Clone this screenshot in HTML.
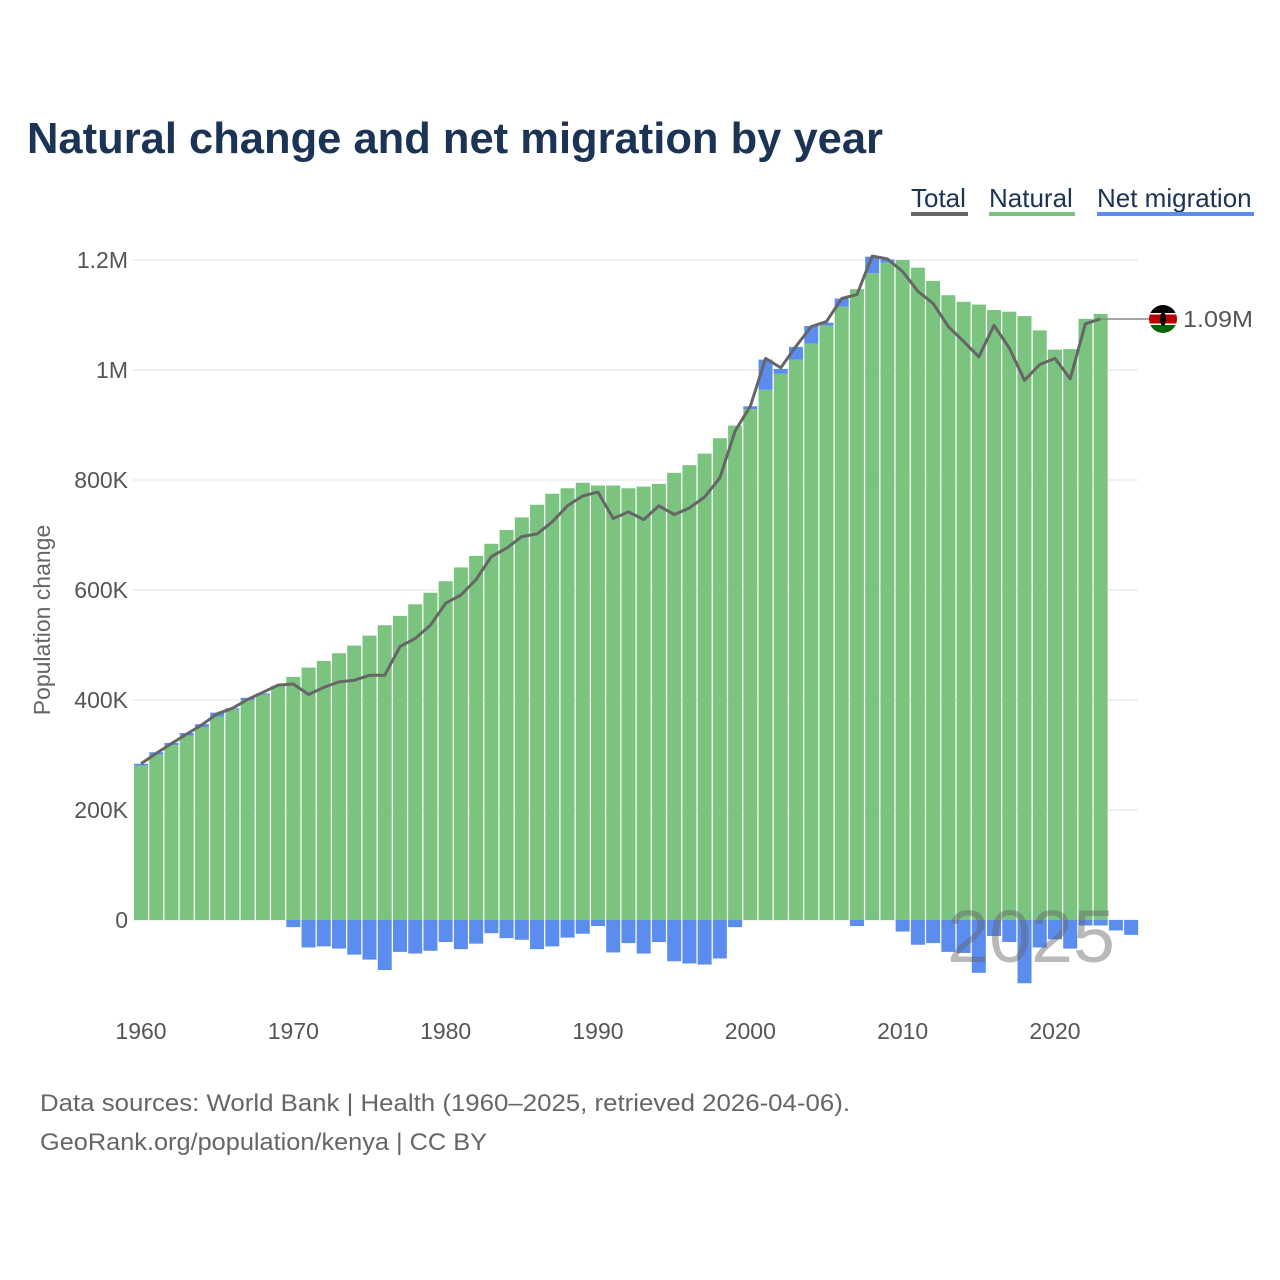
<!DOCTYPE html>
<html><head><meta charset="utf-8">
<style>
body{margin:0;background:#fff;width:1280px;height:1280px;overflow:hidden;font-family:"Liberation Sans",sans-serif;}
svg{position:absolute;left:0;top:0;}
</style></head>
<body>
<svg id="chart" width="1280" height="1280">
<text x="27" y="153" font-size="44" font-weight="bold" fill="#1b3354" textLength="856" lengthAdjust="spacingAndGlyphs">Natural change and net migration by year</text>
<g font-size="26" fill="#1b3354">
<g><text x="911" y="207">Total</text><rect x="911" y="212" width="57" height="4" fill="#666"/></g>
<g><text x="989" y="207">Natural</text><rect x="989" y="212" width="86" height="4" fill="#7bc47f"/></g>
<g><text x="1097" y="207">Net migration</text><rect x="1097" y="212" width="157" height="4" fill="#5b8def"/></g>
</g>
<g id="grid"></g><g id="bars"></g><g id="line"></g><g id="axes"></g>
<text x="50" y="620" font-size="23" fill="#666" text-anchor="middle" transform="rotate(-90 50 620)">Population change</text>
<text x="947" y="962" font-size="74" fill="rgba(100,100,100,0.45)" textLength="168" lengthAdjust="spacingAndGlyphs">2025</text>
<g>
<line x1="1100" y1="319" x2="1150" y2="319" stroke="#888" stroke-width="1.5"/>
<clipPath id="fc"><circle cx="1163" cy="319" r="14"/></clipPath>
<g clip-path="url(#fc)">
<rect x="1149" y="305" width="28" height="9" fill="#000"/><rect x="1149" y="314" width="28" height="10" fill="#b00"/><rect x="1149" y="324" width="28" height="9" fill="#060"/>
<rect x="1149" y="313" width="28" height="1.5" fill="#fff"/><rect x="1149" y="323.5" width="28" height="1.5" fill="#fff"/>
<ellipse cx="1163" cy="319" rx="3" ry="7" fill="#000"/></g>
<text x="1183" y="327" font-size="23" fill="#555" textLength="70" lengthAdjust="spacingAndGlyphs">1.09M</text>
</g>
<text x="40" y="1111" font-size="24" fill="#666" textLength="810" lengthAdjust="spacingAndGlyphs">Data sources: World Bank | Health (1960–2025, retrieved 2026-04-06).</text>
<text x="40" y="1150" font-size="24" fill="#666" textLength="447" lengthAdjust="spacingAndGlyphs">GeoRank.org/population/kenya | CC BY</text>
</svg>
<script>
const years=[];for(let y=1960;y<=2025;y++)years.push(y);
const natural=[281,301,318,335,351,370,383,400,410,426,442,459,471,485,499,517,536,553,574,595,616,641,662,684,709,732,755,775,785,795,790,790,785,788,793,813,827,848,876,899,929,964,993,1019,1048,1081,1115,1147,1176,1195,1200,1186,1162,1136,1124,1119,1109,1106,1098,1072,1037,1038,1093,1102,0,0];
const migration=[3,4,4,5,5,7,2,4,2,0,-13,-50,-48,-52,-63,-72,-91,-58,-61,-56,-40,-53,-43,-24,-33,-36,-53,-48,-32,-25,-11,-59,-42,-61,-40,-75,-79,-81,-70,-13,5,55,9,23,32,5,15,-11,30,6,-21,-45,-42,-58,-60,-96,-29,-40,-115,-50,-35,-52,-10,-10,-19,-27];
const total=[284,303,321,338,355,375,385,401,414,427,429,410,423,433,436,445,445,497,512,536,576,591,619,661,676,697,702,724,753,771,778,730,742,728,753,737,749,769,804,889,934,1021,1004,1043,1079,1088,1130,1137,1207,1202,1179,1143,1121,1079,1052,1024,1081,1040,981,1010,1021,984,1084,1093];
const yTicks=[0,200,400,600,800,1000,1200];
const yTickLabels=["0","200K","400K","600K","800K","1M","1.2M"];
const xTicks=[1960,1970,1980,1990,2000,2010,2020];
const NS="http://www.w3.org/2000/svg";
const X=y=>141+(y-1960)*15.233;
const Y=v=>920-v*0.55;
const bw=14;
function mk(t,a,p){const e=document.createElementNS(NS,t);for(const k in a)e.setAttribute(k,a[k]);p.appendChild(e);return e;}
const grid=document.getElementById('grid'),axes=document.getElementById('axes'),bars=document.getElementById('bars'),line=document.getElementById('line');
yTicks.forEach((v,i)=>{
 const l=mk('line',{x1:133,x2:1138,y1:Y(v),y2:Y(v),stroke:'#e6e6e6','stroke-width':1.2},grid);
 
 
 const t=mk('text',{x:128,y:Y(v)+8,'font-size':23,fill:'#555','text-anchor':'end'},axes);
 t.textContent=yTickLabels[i];
 
 
});
xTicks.forEach(y=>{
 const t=mk('text',{x:X(y),y:1039,'font-size':23,fill:'#555','text-anchor':'middle'},axes);
 t.textContent=y;
 
 
});
years.forEach((yr,i)=>{
 const n=natural[i],m=migration[i],x=X(yr)-bw/2;
 if(n>0){const r=mk('rect',{x:x,y:Y(n),width:bw,height:Y(0)-Y(n),fill:'#7bc47f'},bars);
  
  }
 if(m>0){const r=mk('rect',{x:x,y:Y(n+m),width:bw,height:Y(n)-Y(n+m),fill:'#5b8def'},bars);
  
  }
 else if(m<0){const r=mk('rect',{x:x,y:Y(0),width:bw,height:Y(m)-Y(0),fill:'#5b8def'},bars);
  
  }
});
const pts=total.map((v,i)=>X(years[i]).toFixed(1)+','+Y(v).toFixed(1)).join(' ');
const pl=mk('polyline',{points:pts,fill:'none',stroke:'#666','stroke-width':3,'stroke-linejoin':'round'},line);


</script>
</body></html>
